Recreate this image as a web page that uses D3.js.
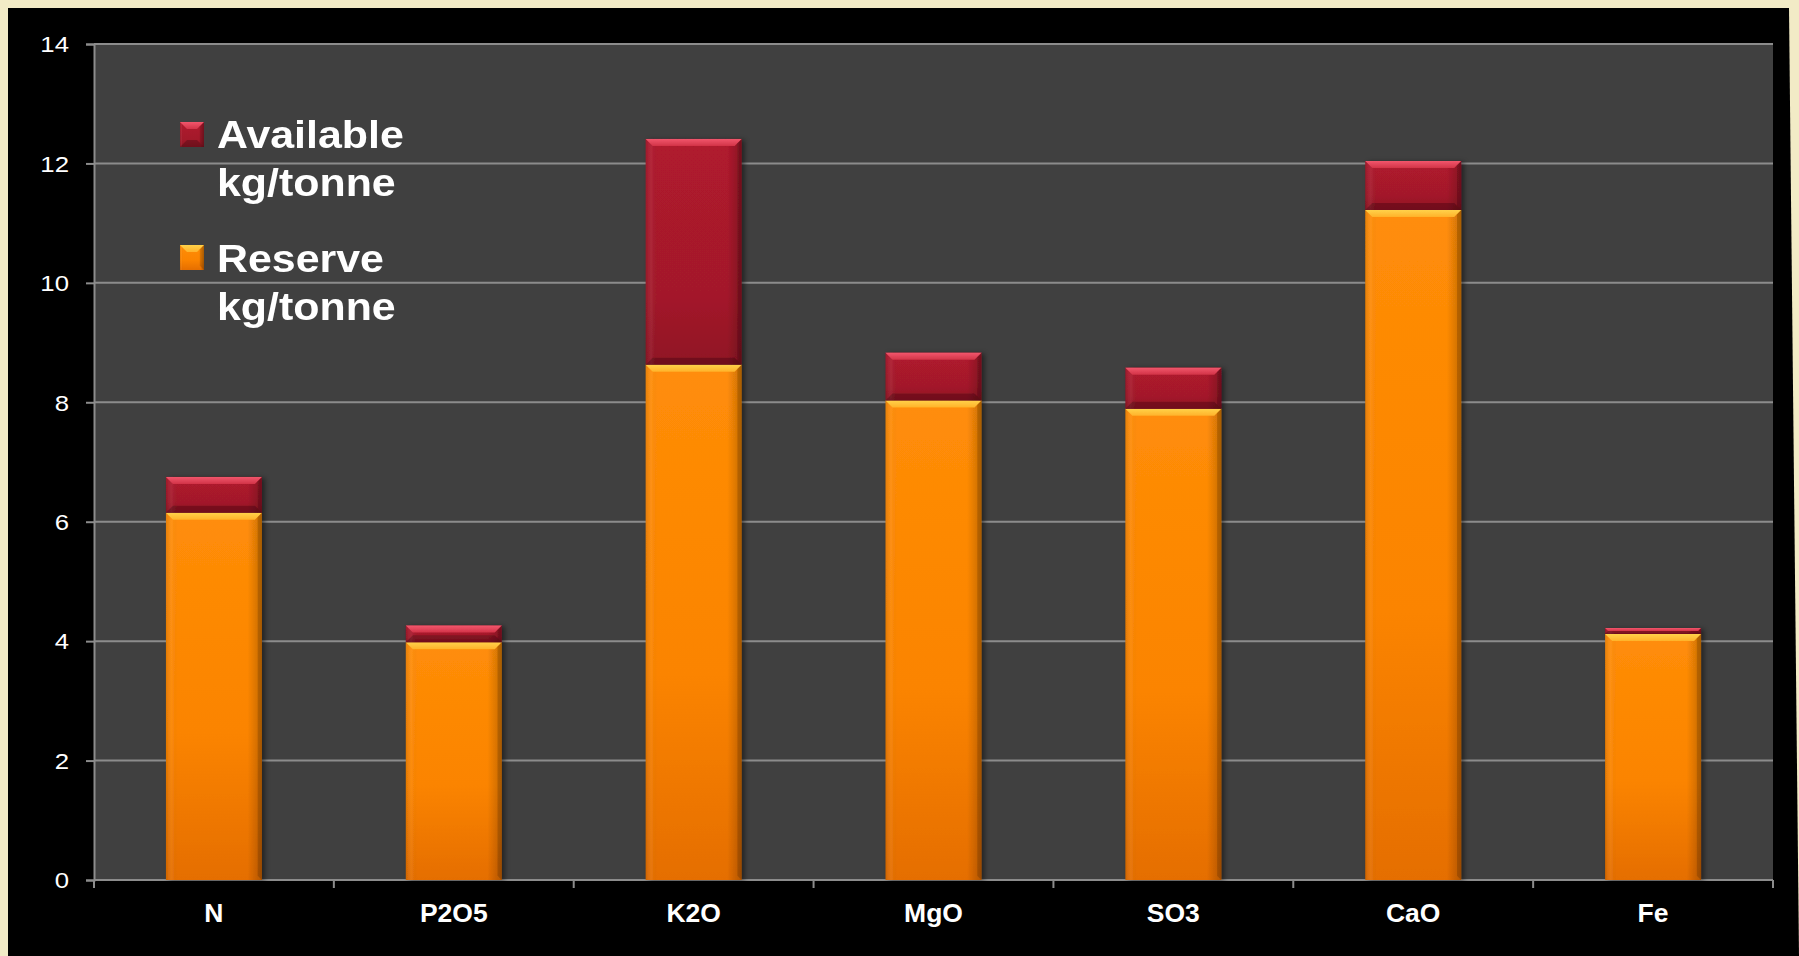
<!DOCTYPE html>
<html>
<head>
<meta charset="utf-8">
<script src="https://cdn.jsdelivr.net/npm/d3@7"></script>
<style>
  html, body { margin: 0; padding: 0; background: #f2ebc6; }
  svg { display: block; }
  text { font-family: "Liberation Sans", Arial, sans-serif; }
</style>
</head>
<body>
<svg id="chart" width="1799" height="956"></svg>
<script>
// ---- data ----
const categories = ["N", "P2O5", "K2O", "MgO", "SO3", "CaO", "Fe"];
const reserve    = [6.15, 3.98, 8.63, 8.03, 7.89, 11.22, 4.12];
const available  = [0.60, 0.28, 3.78, 0.80, 0.69, 0.82, 0.10];
const yTicks     = [0, 2, 4, 6, 8, 10, 12, 14];
const seriesNames = ["Available", "Reserve"];
const seriesUnit  = "kg/tonne";

// ---- layout ----
const W = 1799, H = 956;
const plot = { left: 94, right: 1773, top: 44, bottom: 880 };

const svg = d3.select("#chart");

// backgrounds
svg.append("rect").attr("width", W).attr("height", H).attr("fill", "#f2ebc6");
svg.append("path")
  .attr("d", "M8,8 L1789,8 L1799,956 L8,956 Z")
  .attr("fill", "#000");
svg.append("rect")
  .attr("x", plot.left).attr("y", plot.top)
  .attr("width", plot.right - plot.left).attr("height", plot.bottom - plot.top)
  .attr("fill", "#404040");

// scales
const x = d3.scaleBand().domain(categories)
  .range([plot.left, plot.right]).paddingInner(0.6).paddingOuter(0.3);
const y = d3.scaleLinear().domain([0, 14]).range([plot.bottom, plot.top]);

// defs: gradients + shadow
const defs = svg.append("defs");
function vgrad(id, stops) {
  const g = defs.append("linearGradient").attr("id", id)
    .attr("x1", 0).attr("y1", 0).attr("x2", 0).attr("y2", 1);
  stops.forEach(s => g.append("stop").attr("offset", s[0]).attr("stop-color", s[1]));
}
function hgrad(id, stops) {
  const g = defs.append("linearGradient").attr("id", id)
    .attr("x1", 0).attr("y1", 0).attr("x2", 1).attr("y2", 0);
  stops.forEach(s => g.append("stop").attr("offset", s[0]).attr("stop-color", s[1]).attr("stop-opacity", s[2] === undefined ? 1 : s[2]));
}
vgrad("orangeMain", [[0, "#ff8d08"], [0.6, "#fb8400"], [1, "#e56e00"]]);
vgrad("redMain", [[0, "#b01a2e"], [0.7, "#a3192a"], [1, "#901424"]]);
hgrad("sideShade", [[0, "#000", 0.10], [0.06, "#fff", 0.06], [0.12, "#000", 0.0], [0.85, "#000", 0.0], [1, "#000", 0.22]]);
vgrad("orangeTop", [[0, "#ffd24a"], [1, "#ffb22a"]]);
vgrad("redTop", [[0, "#f2566c"], [1, "#d23448"]]);

const shadow = defs.append("filter").attr("id", "shadow")
  .attr("x", "-10%").attr("y", "-10%").attr("width", "130%").attr("height", "130%");
shadow.append("feDropShadow").attr("dx", 3).attr("dy", 1).attr("stdDeviation", 2.5)
  .attr("flood-color", "#000").attr("flood-opacity", 0.45);

// gridlines
svg.append("g").selectAll("line").data(yTicks.filter(t => t > 0)).join("line")
  .attr("x1", plot.left).attr("x2", plot.right)
  .attr("y1", d => y(d)).attr("y2", d => y(d))
  .attr("stroke", "#8c8c8c").attr("stroke-width", 2);

// y axis (line + ticks from d3 axis, labels drawn separately)
const yAxis = svg.append("g").attr("transform", `translate(${plot.left},0)`)
  .call(d3.axisLeft(y).tickValues(yTicks).tickSize(8).tickFormat(""));
yAxis.select(".domain").attr("stroke", "#8c8c8c").attr("stroke-width", 2);
yAxis.selectAll(".tick line").attr("stroke", "#8c8c8c").attr("stroke-width", 2);
svg.append("g").selectAll("text").data(yTicks).join("text")
  .attr("transform", d => `translate(69,${y(d)}) scale(1.12,1)`)
  .attr("text-anchor", "end").attr("dy", "0.36em")
  .attr("fill", "#fff").attr("font-size", 23)
  .text(d => d3.format("d")(d));

// x axis (ticks at category boundaries)
const boundaries = d3.range(categories.length + 1).map(i => plot.left + i * x.step());
svg.append("line")
  .attr("x1", plot.left).attr("x2", plot.right)
  .attr("y1", plot.bottom).attr("y2", plot.bottom)
  .attr("stroke", "#8c8c8c").attr("stroke-width", 2);
svg.append("g").selectAll("line").data(boundaries).join("line")
  .attr("x1", d => d).attr("x2", d => d)
  .attr("y1", plot.bottom).attr("y2", plot.bottom + 8)
  .attr("stroke", "#8c8c8c").attr("stroke-width", 2);
svg.append("g").selectAll("text").data(categories).join("text")
  .attr("transform", d => `translate(${x(d) + x.bandwidth() / 2},922) scale(1.06,1)`)
  .attr("text-anchor", "middle")
  .attr("fill", "#fff").attr("font-size", 25).attr("font-weight", "bold")
  .text(d => d);

// bevelled segment
function segment(g, x0, y0, w, h, kind) {
  const b = Math.min(7, h / 2);
  const main = kind === "red" ? "url(#redMain)" : "url(#orangeMain)";
  const top = kind === "red" ? "url(#redTop)" : "url(#orangeTop)";
  g.append("rect").attr("x", x0).attr("y", y0).attr("width", w).attr("height", h).attr("fill", main);
  g.append("rect").attr("x", x0).attr("y", y0).attr("width", w).attr("height", h).attr("fill", "url(#sideShade)");
  g.append("path")
    .attr("d", `M${x0},${y0} L${x0 + w},${y0} L${x0 + w - b},${y0 + b} L${x0 + b},${y0 + b} Z`)
    .attr("fill", top);
  g.append("path")
    .attr("d", `M${x0 + w},${y0} L${x0 + w},${y0 + h} L${x0 + w - b * 0.6},${y0 + h - b * 0.6} L${x0 + w - b * 0.6},${y0 + b * 0.6} Z`)
    .attr("fill", "#000").attr("opacity", 0.15);
  if (kind === "red") {
    g.append("path")
      .attr("d", `M${x0},${y0 + h} L${x0 + w},${y0 + h} L${x0 + w - b},${y0 + h - b} L${x0 + b},${y0 + h - b} Z`)
      .attr("fill", "#000").attr("opacity", 0.22);
  }
}

const bars = svg.append("g").attr("filter", "url(#shadow)");
categories.forEach((c, i) => {
  const g = bars.append("g");
  const x0 = x(c), w = x.bandwidth();
  const rTop = y(reserve[i]);
  segment(g, x0, rTop, w, y(0) - rTop, "orange");
  const aTop = y(reserve[i] + available[i]);
  segment(g, x0, aTop, w, rTop - aTop, "red");
});

// legend
const legend = svg.append("g");
const legendItems = [
  { name: seriesNames[0], kind: "red", top: 122, base: [148, 196] },
  { name: seriesNames[1], kind: "orange", top: 245, base: [272, 320] }
];
legendItems.forEach(it => {
  const g = legend.append("g");
  segment(g, 180, it.top, 24, 25, it.kind);
  g.append("text")
    .attr("transform", `translate(217,${it.base[0]}) scale(1.1,1)`)
    .attr("fill", "#fff").attr("font-size", 39).attr("font-weight", "bold")
    .text(it.name);
  g.append("text")
    .attr("transform", `translate(217,${it.base[1]}) scale(1.1,1)`)
    .attr("fill", "#fff").attr("font-size", 39).attr("font-weight", "bold")
    .text(seriesUnit);
});
</script>
</body>
</html>
